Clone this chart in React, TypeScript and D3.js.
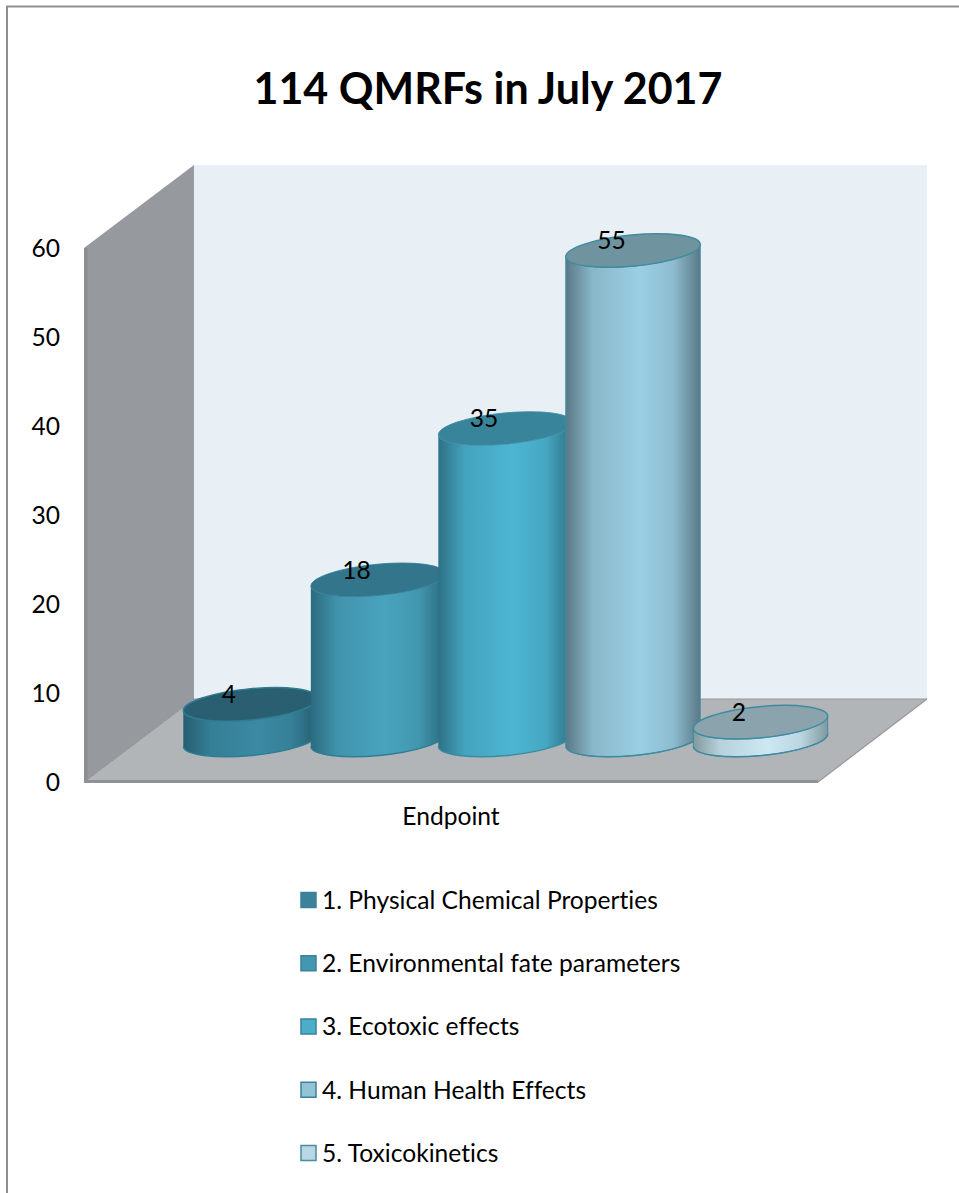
import React from "react";
import * as d3 from "d3";

const categories = [
  "1. Physical Chemical Properties",
  "2. Environmental fate parameters",
  "3. Ecotoxic effects",
  "4. Human Health Effects",
  "5. Toxicokinetics",
];
const counts = [4, 18, 35, 55, 2];
const yTicks = [0, 10, 20, 30, 40, 50, 60];
const sideMid = ["#3b8aa3", "#49a3bd", "#4db6d2", "#9bcfe3", "#cbe8f3"];
const sideEdge = ["#255e70", "#2b6b7f", "#2d7186", "#5b7986", "#82989f"];
const topFill = ["#295f70", "#33758a", "#38849b", "#70949f", "#8aa3ad"];
const rimStroke = ["#2f7d94", "#2f7d94", "#3a8ca3", "#3f8ba0", "#3f8ba0"];
const swatchFill = ["#3a8199", "#4497b0", "#4aaec9", "#92c3d6", "#b9d6e4"];
const swatchStroke = ["#3a8199", "#3a8199", "#3a8199", "#3f8197", "#4a8ba1"];

const FONT = "Lato, Carlito, 'Open Sans', sans-serif";
const LABEL_SIZE = 24.6;
const WIDTH = 959;
const HEIGHT = 1193;

// Front plane of the 3D box and the offset that leads to its back wall.
const yFront = d3.scaleLinear().domain([0, 60]).range([782, 248]);
const depthX = 110;
const depthY = -83;
const floorRight = 818;
const xLeft = 84;
const wallRight = floorRight + depthX - 1;

// Cylinders stand on a shared base line and rise by the same scale as the axis.
const xCyl = d3.scalePoint<string>().domain(categories).range([250.5, 760.5]);
const baseY = 740;
const rx = 67.5;
const ry = 15.6;
const tilt = -5.5;
const rad = (tilt * Math.PI) / 180;
const dx = rx * Math.cos(rad);
const dy = rx * Math.sin(rad);

const poly = d3.line();

function Cylinder({ i }: { i: number }) {
  const cx = xCyl(categories[i]) as number;
  const h = yFront(0) - yFront(counts[i]);
  const topY = baseY - h;
  const side =
    `M${cx - dx},${topY - dy} L${cx - dx},${baseY - dy} ` +
    `A${rx},${ry} ${tilt} 0 0 ${cx + dx},${baseY + dy} ` +
    `L${cx + dx},${topY + dy} ` +
    `A${rx},${ry} ${tilt} 0 1 ${cx - dx},${topY - dy} Z`;
  return (
    <g>
      <path d={side} fill={`url(#side${i})`} stroke={i >= 3 ? rimStroke[i] : "none"} strokeWidth={i >= 3 ? 1 : 0} />
      <path
        d={`M${cx - dx},${baseY - dy} A${rx},${ry} ${tilt} 0 0 ${cx + dx},${baseY + dy}`}
        fill="none"
        stroke={rimStroke[i]}
        strokeWidth={1.5}
      />
      <ellipse
        cx={cx}
        cy={topY}
        rx={rx}
        ry={ry}
        transform={`rotate(${tilt} ${cx} ${topY})`}
        fill={topFill[i]}
        stroke={rimStroke[i]}
        strokeWidth={i >= 3 || i === 0 ? 1.5 : 0.8}
      />
    </g>
  );
}

export default function App() {
  const y0 = yFront(0);
  const y60 = yFront(60);
  const floor = [
    [xLeft, y0],
    [xLeft + depthX, y0 + depthY],
    [wallRight, y0 + depthY],
    [floorRight, y0],
  ] as [number, number][];
  const sideWall = [
    [xLeft, y0],
    [xLeft, y60],
    [xLeft + depthX, y60 + depthY],
    [xLeft + depthX, y0 + depthY],
  ] as [number, number][];
  const backWall = [
    [xLeft + depthX, y60 + depthY],
    [wallRight, y60 + depthY],
    [wallRight, y0 + depthY],
    [xLeft + depthX, y0 + depthY],
  ] as [number, number][];

  return (
    <svg
      width={WIDTH}
      height={HEIGHT}
      viewBox={`0 0 ${WIDTH} ${HEIGHT}`}
      style={{ position: "absolute", left: 0, top: 0, background: "#fff", fontVariantLigatures: "none" }}
      fontFamily={FONT}
    >
      <defs>
        {categories.map((_, i) => (
          <linearGradient key={i} id={`side${i}`} x1="0" x2="1" y1="0" y2="0">
            <stop offset="0" stopColor={sideEdge[i]} />
            <stop offset="0.2" stopColor={d3.interpolateRgb(sideEdge[i], sideMid[i])(0.72)} />
            <stop offset="0.55" stopColor={sideMid[i]} />
            <stop offset="0.8" stopColor={d3.interpolateRgb(sideEdge[i], sideMid[i])(0.78)} />
            <stop offset="1" stopColor={sideEdge[i]} />
          </linearGradient>
        ))}
      </defs>

      {/* outer frame: left and top edges only */}
      <path d={`M7,${HEIGHT} V6.5 H${WIDTH}`} fill="none" stroke="#8e8e8e" strokeWidth={2} />

      <text x={488} y={104} textAnchor="middle" fontSize={43} fontWeight={700} fill="#000">
        114 QMRFs in July 2017
      </text>

      {/* 3D box */}
      <path d={poly(backWall) as string} fill="#e8eff5" />
      <path d={poly(sideWall) + "Z"} fill="#96999d" />
      <rect x={xLeft} y={y60} width={3.5} height={y0 - y60} fill="#8b8d90" />
      <path d={poly(floor) + "Z"} fill="#b2b5b8" />
      <line x1={xLeft + depthX} x2={wallRight} y1={y0 + depthY} y2={y0 + depthY} stroke="#96989b" strokeWidth={1.2} />
      <line x1={floorRight} x2={wallRight} y1={y0} y2={y0 + depthY} stroke="#96989b" strokeWidth={1.2} />
      <line x1={xLeft} x2={xLeft + depthX} y1={y0} y2={y0 + depthY} stroke="#8f9194" strokeWidth={1} />
      <rect x={xLeft} y={y0 - 2} width={floorRight - xLeft} height={3} fill="#8f9194" />

      {/* y axis labels */}
      {yTicks.map((t) => (
        <text key={t} x={60} y={yFront(t)} dy="0.36em" textAnchor="end" fontSize={LABEL_SIZE} fill="#000">
          {t}
        </text>
      ))}

      {categories.map((_, i) => (
        <Cylinder key={i} i={i} />
      ))}

      {/* value labels sit on the cylinder tops */}
      {categories.map((c, i) => (
        <text
          key={c}
          x={(xCyl(c) as number) - 21.5}
          y={baseY - (yFront(0) - yFront(counts[i])) - 10}
          dy="0.36em"
          textAnchor="middle"
          fontSize={LABEL_SIZE}
          fill="#000"
        >
          {counts[i]}
        </text>
      ))}

      <text x={451} y={816} dy="0.36em" textAnchor="middle" fontSize={LABEL_SIZE} fill="#000">
        Endpoint
      </text>

      {/* legend */}
      {categories.map((c, i) => {
        const ly = 900 + i * 63.25;
        return (
          <g key={c}>
            <rect
              x={301}
              y={ly - 7.5}
              width={15}
              height={15}
              fill={swatchFill[i]}
              stroke={swatchStroke[i]}
              strokeWidth={1.5}
            />
            <text x={322} y={ly} dy="0.36em" fontSize={LABEL_SIZE} fill="#000">
              {c}
            </text>
          </g>
        );
      })}
    </svg>
  );
}
